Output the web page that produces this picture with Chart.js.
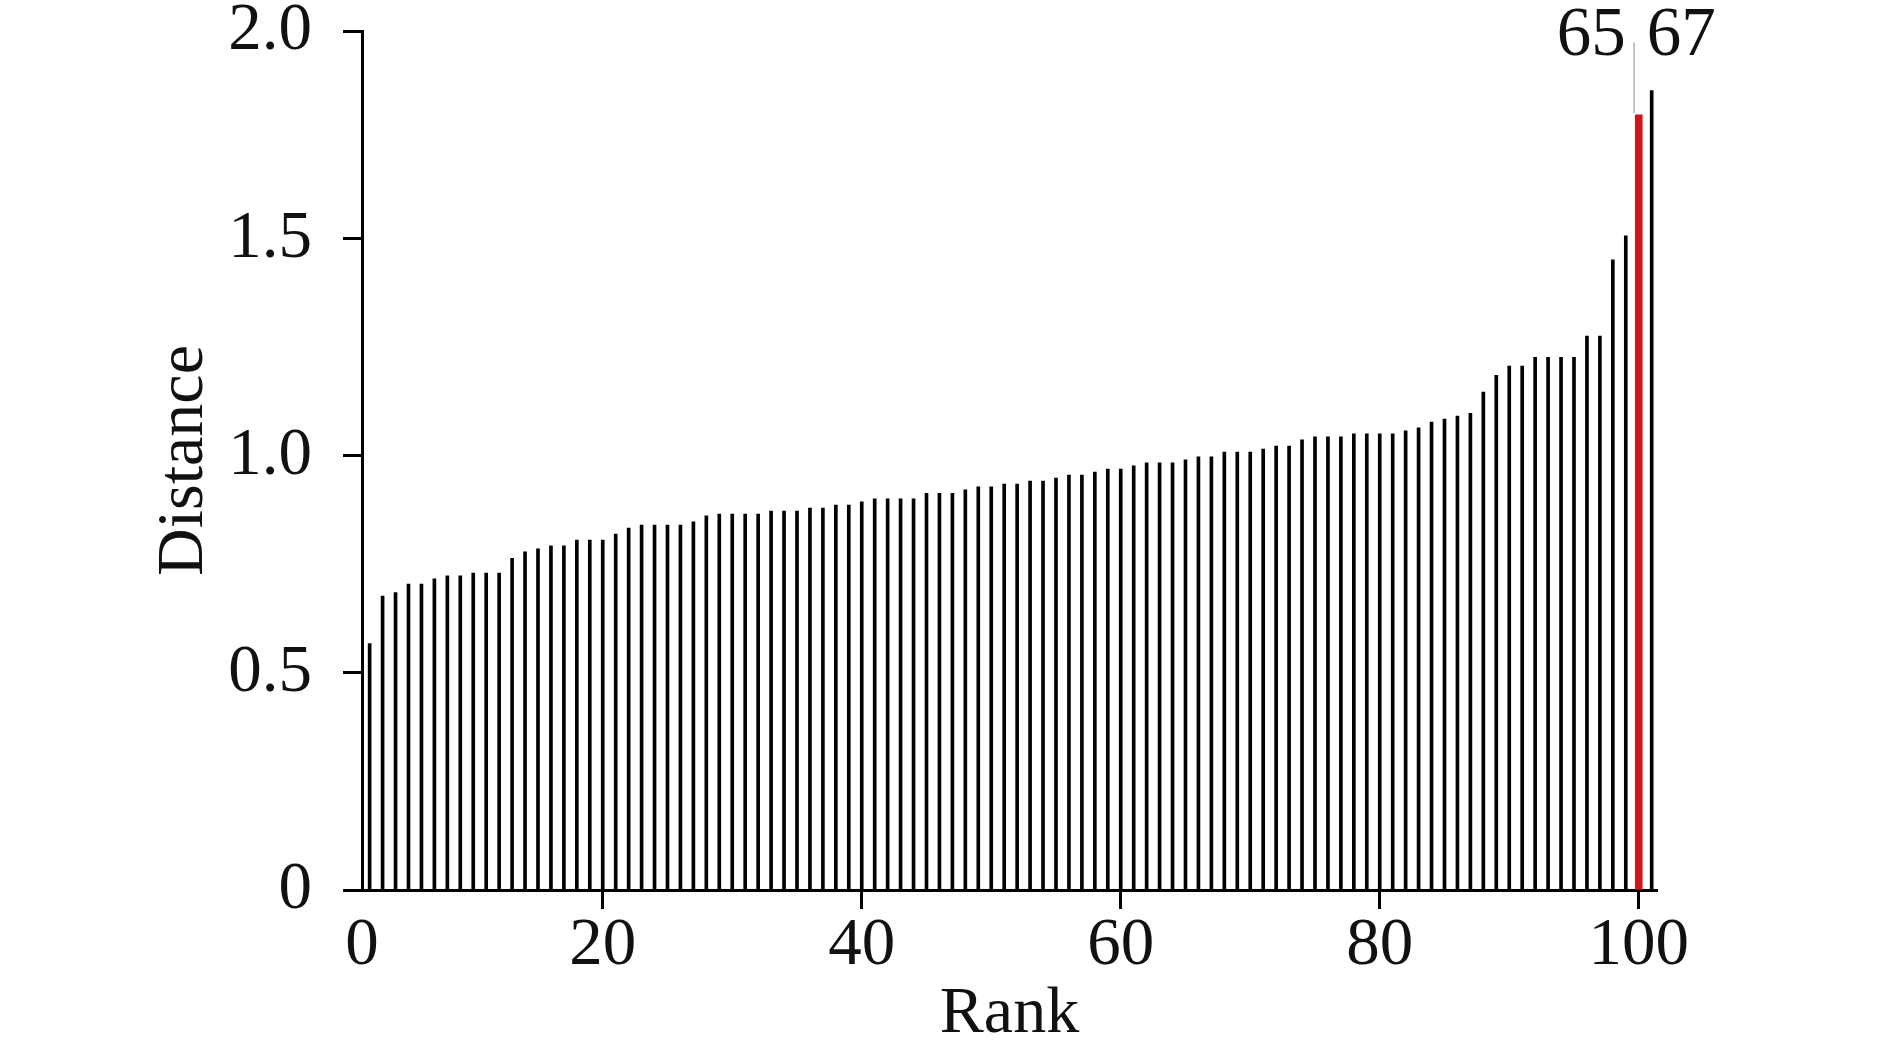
<!DOCTYPE html>
<html>
<head>
<meta charset="utf-8">
<title>Distance by rank</title>
<script src="https://cdn.jsdelivr.net/npm/chart.js@4.4.1/dist/chart.umd.min.js"></script>
<style>
  html, body { margin: 0; padding: 0; background: #fff; }
  canvas { display: block; }
</style>
</head>
<body>
<canvas id="myChart" width="1890" height="1056"></canvas>
<script>
// ranks shown on the x axis
const ranks = [
    2, 3, 4, 5, 6, 7, 8, 9, 10, 11,
    12, 13, 14, 15, 16, 17, 18, 19, 20, 21,
    22, 23, 24, 25, 26, 27, 28, 29, 30, 31,
    32, 33, 34, 35, 36, 37, 38, 39, 40, 41,
    42, 43, 44, 45, 46, 47, 48, 49, 50, 51,
    52, 53, 54, 55, 56, 57, 58, 59, 60, 61,
    62, 63, 64, 65, 66, 67, 68, 69, 70, 71,
    72, 73, 74, 75, 76, 77, 78, 79, 80, 81,
    82, 83, 84, 85, 86, 87, 88, 89, 90, 91,
    92, 93, 94, 95, 96, 97, 98, 99, 100, 101
];

// distance of each rank
const distances = [
    0.568, 0.677, 0.685, 0.705, 0.705, 0.717, 0.724, 0.724, 0.730, 0.730,
    0.730, 0.764, 0.779, 0.786, 0.793, 0.793, 0.806, 0.806, 0.806, 0.820,
    0.834, 0.841, 0.841, 0.841, 0.841, 0.848, 0.862, 0.866, 0.866, 0.866,
    0.866, 0.873, 0.873, 0.873, 0.880, 0.880, 0.887, 0.887, 0.894, 0.901,
    0.901, 0.901, 0.901, 0.914, 0.914, 0.914, 0.922, 0.929, 0.929, 0.935,
    0.935, 0.942, 0.942, 0.949, 0.956, 0.956, 0.963, 0.970, 0.970, 0.977,
    0.984, 0.984, 0.984, 0.991, 0.998, 0.998, 1.009, 1.009, 1.009, 1.016,
    1.023, 1.023, 1.037, 1.044, 1.044, 1.044, 1.051, 1.051, 1.051, 1.051,
    1.058, 1.065, 1.078, 1.085, 1.092, 1.098, 1.147, 1.186, 1.207, 1.207,
    1.227, 1.227, 1.227, 1.227, 1.276, 1.276, 1.452, 1.507, 1.786, 1.842
];

// highlighted rank (red bar)
const highlightRank = 100;

// thin grey marker above the red bar
const markerRank = 99.64;
const markerRange = [1.79, 1.952];

// ids written above the two tallest bars
const topLabelRanks = [100, 101];
const topLabelTexts = ['65', '67'];
const topLabelLevel = 1.924;

// axis ticks
const xMin = 1.41;
const xMax = 101.41;
const xTickValues = [1.41, 20, 40, 60, 80, 100];
const xTickLabels = ['0', '20', '40', '60', '80', '100'];
const yMax = 1.979;
const yTickValues = [0, 0.5, 1.0, 1.5, 1.979];
const yTickLabels = ['0', '0.5', '1.0', '1.5', '2.0'];

const serif = '"Liberation Serif", "Times New Roman", serif';

let blackPoints = [];
let redPoints = [];
ranks.forEach((r, i) => {
    if (r === highlightRank) {
        redPoints.push({x: r, y: distances[i]});
    } else {
        blackPoints.push({x: r, y: distances[i]});
    }
});

const topLabels = {
    id: 'topLabels',
    afterDatasetsDraw(chart) {
        let ctx = chart.ctx;
        let xs = chart.scales.x;
        let ys = chart.scales.y;
        ctx.save();
        ctx.fillStyle = '#111';
        ctx.font = '69px ' + serif;
        ctx.textBaseline = 'alphabetic';
        topLabelRanks.forEach((r, i) => {
            let px = xs.getPixelForValue(r);
            let py = ys.getPixelForValue(topLabelLevel);
            if (i === 0) {
                ctx.textAlign = 'right';
                ctx.fillText(topLabelTexts[i], px - 13, py);
            } else {
                ctx.textAlign = 'left';
                ctx.fillText(topLabelTexts[i], px - 5, py);
            }
        });
        ctx.restore();
    }
};

let config = {
    type: 'bar',
    data: {
        datasets: [{
            label: 'Distance',
            data: blackPoints,
            backgroundColor: '#000',
            barThickness: 3,
            grouped: false
        }, {
            label: 'Highlighted',
            data: redPoints,
            backgroundColor: '#d3141a',
            barThickness: 7,
            grouped: false
        }, {
            label: 'Marker',
            data: [{x: markerRank, y: markerRange}],
            backgroundColor: '#b8b8b8',
            barThickness: 1,
            grouped: false
        }]
    },
    options: {
        responsive: false,
        animation: false,
        devicePixelRatio: 1,
        layout: {
            padding: {left: 0, top: 31, right: 233, bottom: 0}
        },
        plugins: {
            legend: {display: false},
            tooltip: {enabled: false}
        },
        scales: {
            x: {
                type: 'linear',
                min: xMin,
                max: xMax,
                offset: false,
                afterBuildTicks: (axis) => {
                    axis.ticks = xTickValues.map((v) => ({value: v}));
                },
                afterFit: (axis) => {
                    axis.height = 166;
                    axis.paddingLeft = 0;
                    axis.paddingRight = 0;
                },
                ticks: {
                    autoSkip: false,
                    maxRotation: 0,
                    padding: 0,
                    color: '#111',
                    font: {family: serif, size: 67, lineHeight: 1.12},
                    callback: function(value, index) {
                        return xTickLabels[index];
                    }
                },
                grid: {
                    offset: false,
                    drawOnChartArea: false,
                    drawTicks: true,
                    tickLength: 19,
                    tickWidth: 3,
                    tickColor: (c) => c.index === 0 ? 'rgba(0,0,0,0)' : '#000'
                },
                border: {display: true, color: '#000', width: 3},
                title: {
                    display: true,
                    text: 'Rank',
                    color: '#111',
                    font: {family: serif, size: 66, lineHeight: 1.2},
                    padding: {top: 0, bottom: 2}
                }
            },
            y: {
                type: 'linear',
                min: 0,
                max: yMax,
                afterBuildTicks: (axis) => {
                    axis.ticks = yTickValues.map((v) => ({value: v}));
                },
                afterFit: (axis) => {
                    axis.width = 362;
                    axis.paddingTop = 0;
                    axis.paddingBottom = 0;
                },
                ticks: {
                    autoSkip: false,
                    padding: 31,
                    color: '#111',
                    font: {family: serif, size: 67, lineHeight: 0.9},
                    callback: function(value, index) {
                        return yTickLabels[index];
                    }
                },
                grid: {
                    drawOnChartArea: false,
                    drawTicks: true,
                    tickLength: 19,
                    tickWidth: 3,
                    tickColor: '#000'
                },
                border: {display: true, color: '#000', width: 3},
                title: {
                    display: true,
                    text: 'Distance',
                    color: '#111',
                    font: {family: serif, size: 66, lineHeight: 1.2},
                    padding: {top: 145, bottom: 0}
                }
            }
        }
    },
    plugins: [topLabels]
};

let ctx = document.getElementById('myChart').getContext('2d');
var myChart = new Chart(ctx, config);
</script>
</body>
</html>
